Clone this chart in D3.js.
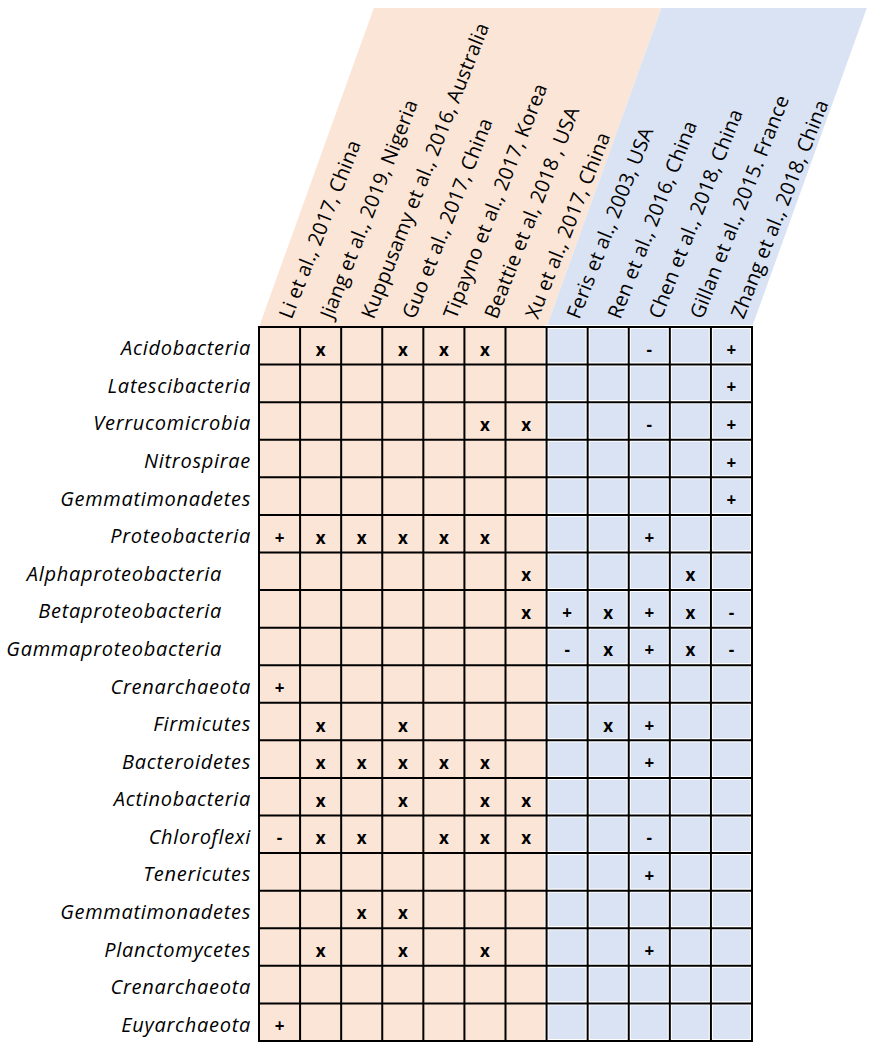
<!DOCTYPE html>
<html>
<head>
<meta charset="utf-8">
<script src="https://cdn.jsdelivr.net/npm/d3@7"></script>
<style>
  body { margin: 0; background: #fff; }
</style>
</head>
<body>
<script>
var w = 872;
var h = 1050;

var studies = [
  'Li et al., 2017, China',
  'Jiang et al., 2019, Nigeria',
  'Kuppusamy et al., 2016, Australia',
  'Guo et al., 2017, China',
  'Tipayno et al., 2017, Korea',
  'Beattie et al, 2018 , USA',
  'Xu et al., 2017, China',
  'Feris et al., 2003, USA',
  'Ren et al., 2016, China',
  'Chen et al., 2018, China',
  'Gillan et al., 2015. France',
  'Zhang et al., 2018, China'
];
// 0 = first group (pink), 1 = second group (blue)
var studyGroup = [0, 0, 0, 0, 0, 0, 0, 1, 1, 1, 1, 1];

var taxa = [
  'Acidobacteria', 'Latescibacteria', 'Verrucomicrobia', 'Nitrospirae',
  'Gemmatimonadetes', 'Proteobacteria', 'Alphaproteobacteria',
  'Betaproteobacteria', 'Gammaproteobacteria', 'Crenarchaeota',
  'Firmicutes', 'Bacteroidetes', 'Actinobacteria', 'Chloroflexi',
  'Tenericutes', 'Gemmatimonadetes', 'Planctomycetes', 'Crenarchaeota',
  'Euyarchaeota'
];

// one row per taxon, one entry per study
var marks = [
  ['', 'x', '', 'x', 'x', 'x', '', '', '', '-', '', '+'],
  ['', '', '', '', '', '', '', '', '', '', '', '+'],
  ['', '', '', '', '', 'x', 'x', '', '', '-', '', '+'],
  ['', '', '', '', '', '', '', '', '', '', '', '+'],
  ['', '', '', '', '', '', '', '', '', '', '', '+'],
  ['+', 'x', 'x', 'x', 'x', 'x', '', '', '', '+', '', ''],
  ['', '', '', '', '', '', 'x', '', '', '', 'x', ''],
  ['', '', '', '', '', '', 'x', '+', 'x', '+', 'x', '-'],
  ['', '', '', '', '', '', '', '-', 'x', '+', 'x', '-'],
  ['+', '', '', '', '', '', '', '', '', '', '', ''],
  ['', 'x', '', 'x', '', '', '', '', 'x', '+', '', ''],
  ['', 'x', 'x', 'x', 'x', 'x', '', '', '', '+', '', ''],
  ['', 'x', '', 'x', '', 'x', 'x', '', '', '', '', ''],
  ['-', 'x', 'x', '', 'x', 'x', 'x', '', '', '-', '', ''],
  ['', '', '', '', '', '', '', '', '', '+', '', ''],
  ['', '', 'x', 'x', '', '', '', '', '', '', '', ''],
  ['', 'x', '', 'x', '', 'x', '', '', '', '+', '', ''],
  ['', '', '', '', '', '', '', '', '', '', '', ''],
  ['+', '', '', '', '', '', '', '', '', '', '', '']
];

var fills = ['#fbe5d6', '#dae3f3'];

var gridTop = 327, gridBottom = 1041, headTop = 8;
var slant = 0.36;

var svg = d3.select('body').append('svg').attr('width', w).attr('height', h);

var x = d3.scaleBand().domain(d3.range(studies.length)).range([259, 752]);
var y = d3.scaleBand().domain(d3.range(taxa.length)).range([gridTop, gridBottom]);
var bw = x.bandwidth(), bh = y.bandwidth();

// slanted header bands
var shiftTop = (gridTop - headTop) * slant;
[0, 1].forEach(function(g) {
  var idx = d3.range(studies.length).filter(function(i) { return studyGroup[i] === g; });
  var x0 = x(idx[0]), x1 = x(idx[idx.length - 1]) + bw;
  svg.append('path')
    .attr('d', 'M' + x0 + ',' + gridTop + 'L' + x1 + ',' + gridTop +
      'L' + (x1 + shiftTop) + ',' + headTop + 'L' + (x0 + shiftTop) + ',' + headTop + 'Z')
    .attr('fill', fills[g]);
});

// column labels
svg.selectAll('text.study')
  .data(studies)
  .enter()
  .append('text')
  .attr('class', 'study')
  .attr('transform', function(d, i) {
    return 'translate(' + (x(i) + bw / 2 + 12) + ',' + (gridTop - 7) + ') rotate(-68.5)';
  })
  .attr('font-family', 'Open Sans, sans-serif')
  .attr('font-size', 20)
  .attr('letter-spacing', 0.2)
  .attr('fill', '#000')
  .text(function(d) { return d; });

// cells
var cells = [];
marks.forEach(function(row, r) {
  row.forEach(function(m, c) { cells.push({r: r, c: c, m: m}); });
});

svg.selectAll('rect.cell')
  .data(cells)
  .enter()
  .append('rect')
  .attr('class', 'cell')
  .attr('x', function(d) { return x(d.c); })
  .attr('y', function(d) { return y(d.r); })
  .attr('width', bw)
  .attr('height', bh)
  .attr('fill', function(d) { return fills[studyGroup[d.c]]; })
  .attr('stroke', function(d) { return studyGroup[d.c] === 1 ? '#fff' : 'none'; })
  .attr('stroke-width', 4);

// grid lines
svg.selectAll('line.v')
  .data(d3.range(studies.length + 1))
  .enter()
  .append('line')
  .attr('x1', function(i) { return i < studies.length ? x(i) : x(i - 1) + bw; })
  .attr('x2', function(i) { return i < studies.length ? x(i) : x(i - 1) + bw; })
  .attr('y1', gridTop)
  .attr('y2', gridBottom)
  .attr('stroke', '#000')
  .attr('stroke-width', 2);

svg.selectAll('line.hz')
  .data(d3.range(taxa.length + 1))
  .enter()
  .append('line')
  .attr('y1', function(i) { return i < taxa.length ? y(i) : y(i - 1) + bh; })
  .attr('y2', function(i) { return i < taxa.length ? y(i) : y(i - 1) + bh; })
  .attr('x1', x(0) - 1)
  .attr('x2', x(studies.length - 1) + bw + 1)
  .attr('stroke', '#000')
  .attr('stroke-width', 2);

// marks
svg.selectAll('text.mark')
  .data(cells.filter(function(d) { return d.m; }))
  .enter()
  .append('text')
  .attr('class', 'mark')
  .attr('x', function(d) { return x(d.c) + bw / 2; })
  .attr('y', function(d) { return y(d.r) + bh / 2 + 10; })
  .attr('text-anchor', 'middle')
  .attr('font-family', 'Open Sans, sans-serif')
  .attr('font-weight', 'bold')
  .attr('font-size', 17)
  .text(function(d) { return d.m; });

// row labels (proteobacteria classes sit a little further left)
svg.selectAll('text.taxon')
  .data(taxa)
  .enter()
  .append('text')
  .attr('class', 'taxon')
  .attr('x', function(d) { return /.proteobacteria$/.test(d) ? 222 : 251; })
  .attr('y', function(d, i) { return y(i) + bh / 2 + 9.5; })
  .attr('text-anchor', 'end')
  .attr('font-family', 'Open Sans, sans-serif')
  .attr('font-style', 'italic')
  .attr('font-size', 20)
  .attr('letter-spacing', 0.7)
  .text(function(d) { return d; });
</script>
</body>
</html>
